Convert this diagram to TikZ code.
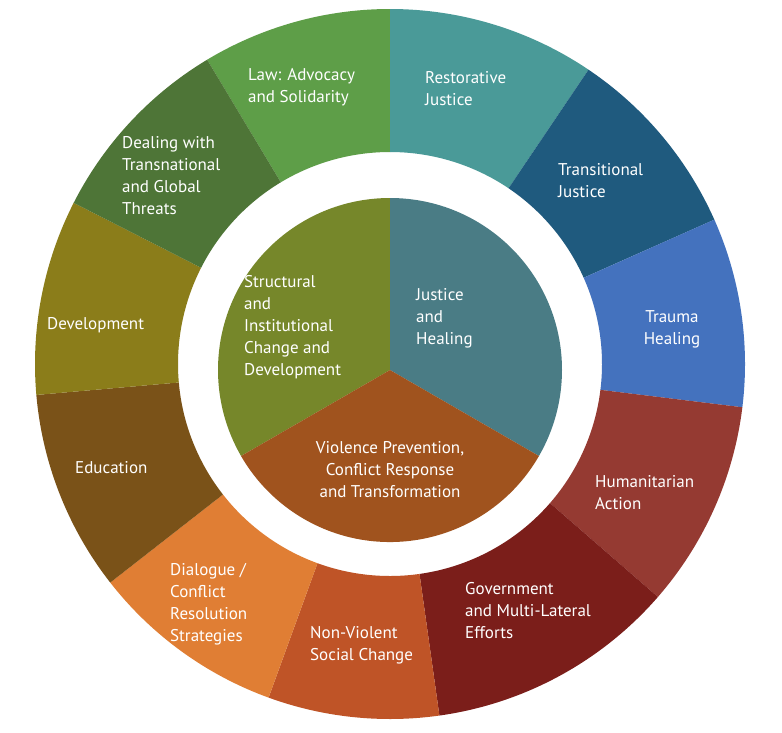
\documentclass[tikz,border=0pt]{standalone}
\usepackage{fontspec}
\setmainfont{PT Sans}
\usetikzlibrary{calc}
\definecolor{cLaw}{HTML}{5E9E48}
\definecolor{cRes}{HTML}{4A9A98}
\definecolor{cTra}{HTML}{1F5A7E}
\definecolor{cTrm}{HTML}{4472BE}
\definecolor{cHum}{HTML}{953A32}
\definecolor{cGov}{HTML}{7B1E1A}
\definecolor{cNon}{HTML}{BF5427}
\definecolor{cDia}{HTML}{E07E34}
\definecolor{cEdu}{HTML}{7A5218}
\definecolor{cDev}{HTML}{8B7D1A}
\definecolor{cDea}{HTML}{4E7537}
\definecolor{cStr}{HTML}{76872A}
\definecolor{cJus}{HTML}{4A7C85}
\definecolor{cVio}{HTML}{A0531E}
\begin{document}
\begin{tikzpicture}[x=1pt,y=-1pt,
  lbl/.style={text=white,font=\fontsize{17}{22}\selectfont,align=left,anchor=west,inner sep=0pt},
  lblc/.style={lbl,align=center,anchor=center}]
\useasboundingbox (0,0) rectangle (782,732);
\fill[white] (0,0) rectangle (782,732);
\coordinate (c) at (390,364);
\def\seg#1#2#3{\fill[#3] ($(c)+(-#1:355)$) arc[start angle=-#1,end angle=-#2,radius=355] -- ($(c)+(-#2:212)$) arc[start angle=-#2,end angle=-#1,radius=212] -- cycle;}
\seg{90}{121}{cLaw}
\seg{56}{90}{cRes}
\seg{24}{56}{cTra}
\seg{-7}{24}{cTrm}
\seg{-41}{-7}{cHum}
\seg{-82}{-41}{cGov}
\seg{-110}{-82}{cNon}
\seg{-142}{-110}{cDia}
\seg{-175}{-142}{cEdu}
\seg{-207}{-175}{cDev}
\seg{-239}{-207}{cDea}
\coordinate (p) at (390,370);
\fill[cStr] (p) -- ($(p)+(-90:172)$) arc[start angle=-90,end angle=-210,radius=172] -- cycle;
\fill[cJus] (p) -- ($(p)+(-90:172)$) arc[start angle=-90,end angle=30,radius=172] -- cycle;
\fill[cVio] (p) -- ($(p)+(30:172)$) arc[start angle=30,end angle=150,radius=172] -- cycle;
\node[lbl] (law) at (248,87) {Law: Advocacy\\and Solidarity};
\node[lbl] (res) at (425,89) {Restorative\\Justice};
\node[lbl] (tra) at (558,181) {Transitional\\Justice};
\node[lblc] (trm) at (672,329) {Trauma\\Healing};
\node[lbl] (hum) at (595,493) {Humanitarian\\Action};
\node[lbl] (gov) at (465,611) {Government\\and Multi-Lateral\\Efforts};
\node[lbl] (non) at (310,645) {Non-Violent\\Social Change};
\node[lbl] (dia) at (170,604) {Dialogue /\\Conflict\\Resolution\\Strategies};
\node[lbl] (edu) at (75,468) {Education};
\node[lbl] (dev) at (47,325) {Development};
\node[lbl] (dea) at (122,176) {Dealing with\\Transnational\\and Global\\Threats};
\node[lbl] (str) at (244,327) {Structural\\and\\Institutional\\Change and\\Development};
\node[lbl] (jus) at (416,318) {Justice\\and\\Healing};
\node[lblc] (vio) at (390,470) {Violence Prevention,\\Conflict Response\\and Transformation};
\end{tikzpicture}
\end{document}
